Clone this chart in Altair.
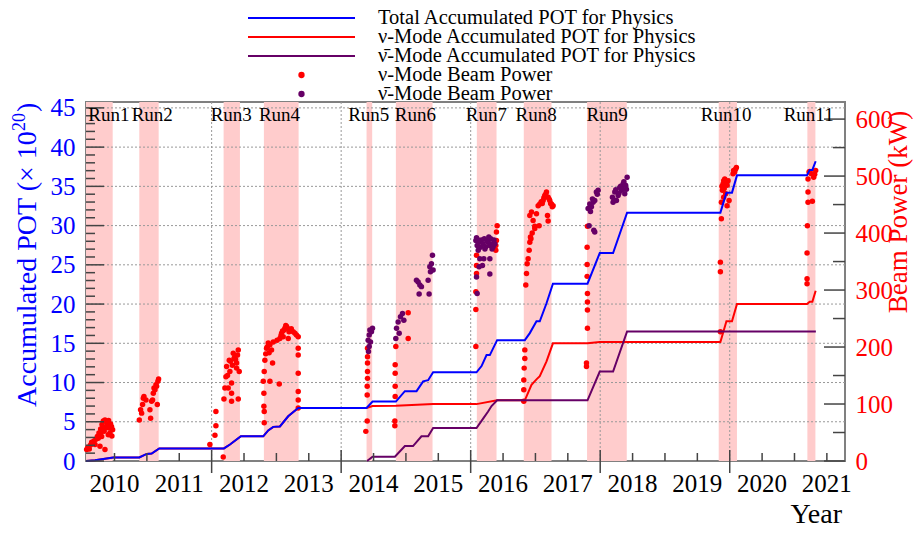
import altair as alt
import pandas as pd

# ---------------- data ----------------
X_MIN, X_MAX = 2010.06, 2021.78
POT_MAX, KW_MAX = 45.75, 630
W, H = 759, 359
FONT = "Liberation Serif"

run_names = ["Run1", "Run2", "Run3", "Run4", "Run5", "Run6", "Run7", "Run8", "Run9", "Run10", "Run11"]
run_start = [2010.06, 2010.883, 2012.185, 2012.807, 2014.392, 2014.845, 2016.095, 2016.820, 2017.797, 2019.830, 2021.199]
run_end = [2010.472, 2011.182, 2012.437, 2013.343, 2014.479, 2015.411, 2016.399, 2017.248, 2018.410, 2020.112, 2021.323]
run_label_at = [2010.096, 2010.765, 2011.985, 2012.730, 2014.108, 2014.829, 2015.925, 2016.692, 2017.788, 2019.552, 2020.833]

year_labels = ["2010", "2011", "2012", "2013", "2014", "2015", "2016", "2017", "2018", "2019", "2020", "2021"]
year_label_at = [2010.5, 2011.5, 2012.5, 2013.5, 2014.5, 2015.5, 2016.5, 2017.5, 2018.5, 2019.5, 2020.5, 2021.5]
year_minor_ticks = [2010.5, 2011.0, 2011.5, 2012.5, 2013.0, 2013.5, 2014.5, 2015.0, 2015.5, 2016.5,
                    2017.0, 2017.5, 2018.5, 2019.0, 2019.5, 2020.5, 2021.0, 2021.5]
year_major_ticks = [2012, 2014, 2016, 2018, 2020]

pot_major = [0, 5, 10, 15, 20, 25, 30, 35, 40, 45]
pot_minor = [v for v in range(0, 46) if v % 5 != 0]
pot_grid = [5, 10, 15, 20, 25, 30, 35, 40, 45]
kw_major = [0, 100, 200, 300, 400, 500, 600]
kw_minor = [50, 150, 250, 350, 450, 550]

total_year = [2010.06, 2010.20, 2010.48, 2010.883, 2010.997, 2011.074, 2011.191, 2012.190, 2012.283, 2012.452,
              2012.797, 2012.874, 2012.951, 2013.054, 2013.182, 2013.337, 2014.392, 2014.485, 2014.845, 2014.984,
              2015.164, 2015.266, 2015.343, 2015.42, 2016.09, 2016.168, 2016.245, 2016.296, 2016.408, 2016.836,
              2016.913, 2017.016, 2017.067, 2017.171, 2017.27, 2017.804, 2017.993, 2018.199, 2018.415, 2019.856,
              2019.949, 2020.035, 2020.112, 2021.193, 2021.235, 2021.276, 2021.327]
total_pot = [0.0, 0.1, 0.45, 0.45, 0.9, 0.95, 1.6, 1.6, 2.1, 3.15,
             3.15, 3.9, 4.35, 4.4, 5.7, 6.75, 6.75, 7.57, 7.57, 8.9,
             8.9, 10.15, 10.3, 11.3, 11.3, 12.1, 13.5, 13.5, 15.4, 15.4,
             16.3, 17.8, 17.8, 20.1, 22.6, 22.6, 26.5, 26.5, 31.65, 31.65,
             34.2, 34.2, 36.4, 36.4, 37.1, 37.1, 38.2]

nu_year = [2010.06, 2010.20, 2010.48, 2010.883, 2010.997, 2011.074, 2011.191, 2012.190, 2012.283, 2012.452,
           2012.797, 2012.874, 2012.951, 2013.054, 2013.182, 2013.337, 2014.392, 2014.485, 2014.845, 2015.42,
           2016.09, 2016.408, 2016.836, 2016.939, 2017.016, 2017.067, 2017.171, 2017.27, 2017.804, 2017.993,
           2019.856, 2019.949, 2020.035, 2020.112, 2021.193, 2021.235, 2021.276, 2021.327]
nu_pot = [0.0, 0.1, 0.45, 0.45, 0.9, 0.95, 1.6, 1.6, 2.1, 3.15,
          3.15, 3.9, 4.35, 4.4, 5.7, 6.75, 6.75, 7.0, 7.05, 7.25,
          7.25, 7.73, 7.73, 9.7, 10.4, 10.8, 12.7, 15.0, 15.0, 15.15,
          15.15, 17.8, 17.8, 20.0, 20.0, 20.3, 20.3, 21.7]

anu_year = [2014.40, 2014.485, 2014.83, 2014.984, 2015.11, 2015.24, 2015.343, 2015.42, 2016.09,
            2016.192, 2016.269, 2016.322, 2016.408, 2017.804, 2017.993, 2018.199, 2018.415, 2021.33]
anu_pot = [0.0, 0.55, 0.55, 1.9, 1.9, 3.15, 3.15, 4.2, 4.2,
           5.4, 6.3, 7.0, 7.73, 7.73, 11.4, 11.4, 16.5, 16.5]

nu_pw_year = [
    # Run1
    2010.070, 2010.111, 2010.147, 2010.183, 2010.214, 2010.235, 2010.260, 2010.286, 2010.307, 2010.327, 2010.353,
    2010.379, 2010.409, 2010.440, 2010.471, 2010.276, 2010.353, 2010.404, 2010.302, 2010.430, 2010.368, 2010.199,
    2010.090, 2010.130, 2010.250, 2010.320, 2010.340, 2010.390, 2010.420, 2010.455, 2010.290, 2010.460,
    # Run2
    2010.883, 2010.903, 2010.934, 2010.955, 2010.986, 2011.047, 2011.058, 2011.073, 2011.099, 2011.125, 2011.140,
    2011.161, 2011.181, 2011.150, 2011.088, 2010.919, 2010.945, 2011.110, 2011.170,
    # Run3
    2011.973, 2012.051, 2012.066, 2012.066, 2012.179, 2012.190, 2012.205, 2012.221, 2012.272, 2012.282, 2012.308,
    2012.308, 2012.334, 2012.359, 2012.385, 2012.411, 2012.426, 2012.411, 2012.308, 2012.256, 2012.231, 2012.385,
    2012.245, 2012.290, 2012.320, 2012.345, 2012.370, 2012.400,
    # Run4
    2012.797, 2012.807, 2012.807, 2012.812, 2012.812, 2012.812, 2012.822, 2012.848, 2012.874, 2012.900, 2012.925,
    2012.941, 2012.951, 2012.900, 2013.044, 2013.054, 2013.080, 2013.131, 2013.157, 2013.208, 2013.259, 2013.286,
    2013.337, 2013.337, 2013.337, 2013.337, 2013.337, 2013.337, 2013.337, 2013.183, 2013.105,
    2012.835, 2012.860, 2012.888, 2013.010, 2013.070, 2013.095, 2013.120, 2013.145, 2013.170, 2013.195,
    2013.230, 2013.310,
    # Run5
    2014.381, 2014.402, 2014.402, 2014.402, 2014.407, 2014.407, 2014.407, 2014.407, 2014.407,
    # Run6
    2014.829, 2014.829, 2014.834, 2014.834, 2014.834, 2014.834, 2014.844, 2015.035, 2015.035,
    # Run7
    2016.080, 2016.080, 2016.080, 2016.090, 2016.090, 2016.090, 2016.388, 2016.398, 2016.398, 2016.409, 2016.388,
    # Run8
    2016.820, 2016.820, 2016.820, 2016.826, 2016.836, 2016.836, 2016.851, 2016.862, 2016.872, 2016.887, 2016.903,
    2016.913, 2016.923, 2016.913, 2016.939, 2016.964, 2016.990, 2017.016, 2017.042, 2017.067, 2017.119, 2017.144,
    2017.170, 2017.196, 2017.221, 2017.273, 2017.247, 2017.186, 2017.196, 2017.057, 2016.990,
    2017.090, 2017.105, 2017.130, 2017.158, 2017.210, 2017.235, 2017.260, 2016.950, 2016.930,
    # Run9
    2017.788, 2017.788, 2017.803, 2017.803, 2017.803, 2017.803, 2017.798, 2017.798, 2017.798, 2017.803,
    # Run10
    2019.856, 2019.856, 2019.856, 2019.871, 2019.871, 2019.887, 2019.897, 2019.907, 2019.923, 2019.948, 2019.974,
    2019.938, 2019.907, 2019.959, 2019.990, 2020.051, 2020.077, 2020.103, 2019.897,
    2019.880, 2019.915, 2019.930, 2019.960, 2020.060, 2020.090,
    # Run11
    2021.194, 2021.194, 2021.194, 2021.199, 2021.209, 2021.209, 2021.209, 2021.225, 2021.261, 2021.276, 2021.297,
    2021.327, 2021.312, 2021.235,
]
nu_pw_kw = [
    20, 21, 33, 35, 38, 43, 49, 56, 64, 70, 72,
    68, 71, 65, 55, 26, 20, 46, 43, 49, 58, 29,
    24, 28, 40, 60, 52, 62, 58, 60, 50, 44,
    72, 90, 99, 113, 107, 90, 75, 105, 119, 125, 134,
    99, 144, 131, 107, 84, 110, 128, 140,
    29, 45, 62, 87, 7, 109, 128, 148, 177, 157, 137,
    105, 189, 183, 172, 195, 157, 109, 119, 128, 166, 163,
    150, 175, 168, 180, 178, 186,
    140, 119, 96, 67, 87, 157, 177, 198, 207, 204, 195,
    172, 209, 140, 135, 215, 224, 233, 236, 230, 227, 224,
    218, 198, 186, 154, 122, 107, 93, 215, 218,
    188, 200, 190, 212, 220, 228, 230, 238, 233, 227,
    232, 221,
    52, 70, 116, 131, 145, 157, 172, 183, 198,
    62, 70, 169, 154, 131, 113, 201, 260, 215,
    201, 266, 297, 329, 343, 361, 370, 387, 402, 413, 378,
    105, 125, 142, 163, 180, 195, 309, 329, 346, 355, 370,
    384, 393, 431, 437, 422, 408, 434, 448, 451, 457, 466,
    472, 463, 457, 448, 451, 431, 421, 413, 412,
    455, 452, 462, 468, 460, 452, 446, 400, 390,
    166, 172, 233, 265, 279, 294, 324, 345, 375, 412,
    227, 332, 349, 425, 454, 475, 486, 492, 495, 489, 492,
    469, 463, 448, 457, 504, 507, 515, 480,
    482, 478, 485, 484, 510, 512,
    311, 320, 365, 413, 454, 472, 495, 507, 504, 456, 498,
    510, 503, 508,
]

anu_pw_year = [
    # Run5
    2014.417, 2014.433, 2014.443, 2014.468, 2014.453, 2014.433, 2014.422, 2014.484,
    # Run6
    2014.844, 2014.855, 2014.880, 2014.916, 2014.947, 2014.968, 2014.896, 2015.163, 2015.189, 2015.215, 2015.240,
    2015.204, 2015.358, 2015.343, 2015.369, 2015.394, 2015.410, 2015.420, 2015.379,
    # Run7
    2016.080, 2016.100, 2016.131, 2016.167, 2016.193, 2016.234, 2016.270, 2016.296, 2016.321, 2016.347, 2016.373,
    2016.116, 2016.141, 2016.131, 2016.182, 2016.203, 2016.296, 2016.296, 2016.100, 2016.090,
    2016.090, 2016.150, 2016.210, 2016.250, 2016.310, 2016.360, 2016.120, 2016.220, 2016.330, 2016.280,
    # Run9
    2017.813, 2017.839, 2017.865, 2017.891, 2017.916, 2017.941, 2017.968, 2017.829, 2017.901, 2017.916,
    2018.189, 2018.225, 2018.251, 2018.302, 2018.328, 2018.354, 2018.379, 2018.405, 2018.416, 2018.199, 2018.277,
    2017.850, 2017.880, 2017.955, 2018.215, 2018.240, 2018.290, 2018.315, 2018.340, 2018.365, 2018.392,
]
anu_pw_kw = [
    212, 221, 230, 227, 209, 201, 192, 233,
    215, 233, 244, 253, 259, 247, 224, 317, 314, 309, 306,
    293, 293, 317, 341, 346, 361, 335, 332,
    387, 378, 384, 388, 381, 376, 384, 378, 381, 376, 381,
    370, 355, 341, 343, 355, 355, 328, 294, 323,
    392, 375, 390, 386, 390, 388, 388, 372, 372, 393,
    443, 451, 446, 454, 457, 472, 475, 413, 405, 402,
    463, 472, 457, 480, 475, 486, 469, 477, 498, 454, 466,
    438, 460, 468, 458, 476, 470, 482, 478, 490, 484,
]

legend_labels = [
    "Total Accumulated POT for Physics",
    "\u03bd-Mode Accumulated POT for Physics",
    "\u03bd\u0304-Mode Accumulated POT for Physics",
    "\u03bd-Mode Beam Power",
    "\u03bd\u0304-Mode Beam Power",
]

# ---------------- chart ----------------
BLUE, RED, PURPLE = "#0000ff", "#ff0000", "#660066"
GRID = "#999999"
TICK = "#444444"

xs = alt.Scale(domain=[X_MIN, X_MAX], nice=False, zero=False)
ys_pot = alt.Scale(domain=[0, POT_MAX], nice=False, zero=False)
ys_kw = alt.Scale(domain=[0, KW_MAX], nice=False, zero=False)


def xenc(field):
    return alt.X(field, type="quantitative", scale=xs, axis=None, title=None)


runs_df = pd.DataFrame({"run": run_names, "start": run_start, "end": run_end, "label_at": run_label_at})

shade = alt.Chart(runs_df).mark_rect(color="#ffcccc").encode(
    x=xenc("start"), x2="end:Q", y=alt.value(0), y2=alt.value(H))

vgrid = alt.Chart(pd.DataFrame({"v": year_major_ticks})).mark_rule(
    color=GRID, strokeDash=[2, 2], strokeWidth=1).encode(x=xenc("v"))

hgrid = alt.Chart(pd.DataFrame({"v": pot_grid})).mark_rule(
    color=GRID, strokeDash=[2, 2], strokeWidth=1).encode(
    y=alt.Y("v:Q", scale=ys_pot, axis=None))

total_df = pd.DataFrame({"year": total_year, "pot": total_pot})
nu_df = pd.DataFrame({"year": nu_year, "pot": nu_pot})
anu_df = pd.DataFrame({"year": anu_year, "pot": anu_pot})

line_nu = alt.Chart(nu_df).mark_line(color=RED, strokeWidth=2).encode(
    x=xenc("year"), y=alt.Y("pot:Q", scale=ys_pot, axis=None))
line_anu = alt.Chart(anu_df).mark_line(color=PURPLE, strokeWidth=2).encode(
    x=xenc("year"), y=alt.Y("pot:Q", scale=ys_pot, axis=None))
line_total = alt.Chart(total_df).mark_line(color=BLUE, strokeWidth=2).encode(
    x=xenc("year"),
    y=alt.Y("pot:Q", scale=ys_pot, title=None,
            axis=alt.Axis(orient="left", values=pot_major, ticks=False, domain=False, grid=False,
                          labelFont=FONT, labelFontSize=25, labelColor=BLUE, labelPadding=11)))

nu_pw_df = pd.DataFrame({"year": nu_pw_year, "kw": nu_pw_kw})
anu_pw_df = pd.DataFrame({"year": anu_pw_year, "kw": anu_pw_kw})

pts_nu = alt.Chart(nu_pw_df).mark_circle(color=RED, size=30, opacity=1).encode(
    x=xenc("year"),
    y=alt.Y("kw:Q", scale=ys_kw, title=None,
            axis=alt.Axis(orient="right", values=kw_major, ticks=False, domain=False, grid=False,
                          labelFont=FONT, labelFontSize=25, labelColor=RED, labelPadding=10)))
pts_anu = alt.Chart(anu_pw_df).mark_circle(color=PURPLE, size=30, opacity=1).encode(
    x=xenc("year"), y=alt.Y("kw:Q", scale=ys_kw, axis=None))

# inward tick marks
lt_major = alt.Chart(pd.DataFrame({"v": pot_major})).mark_rule(color=TICK, strokeWidth=1.5).encode(
    y=alt.Y("v:Q", scale=ys_pot, axis=None), x=alt.value(0), x2=alt.value(18))
lt_minor = alt.Chart(pd.DataFrame({"v": pot_minor})).mark_rule(color=TICK, strokeWidth=1.5).encode(
    y=alt.Y("v:Q", scale=ys_pot, axis=None), x=alt.value(0), x2=alt.value(9))
rt_major = alt.Chart(pd.DataFrame({"v": kw_major})).mark_rule(color=TICK, strokeWidth=1.5).encode(
    y=alt.Y("v:Q", scale=ys_kw, axis=None), x=alt.value(W - 21), x2=alt.value(W))
rt_minor = alt.Chart(pd.DataFrame({"v": kw_minor})).mark_rule(color=TICK, strokeWidth=1.5).encode(
    y=alt.Y("v:Q", scale=ys_kw, axis=None), x=alt.value(W - 12), x2=alt.value(W))
bt_minor = alt.Chart(pd.DataFrame({"v": year_minor_ticks})).mark_rule(color=TICK, strokeWidth=1.5).encode(
    x=xenc("v"), y=alt.value(H - 8), y2=alt.value(H))
bt_major = alt.Chart(pd.DataFrame({"v": year_major_ticks})).mark_rule(color=TICK, strokeWidth=1.5).encode(
    x=xenc("v"), y=alt.value(H - 11), y2=alt.value(H + 12))

# x-axis year labels (centred on mid-year)
year_text = alt.Chart(pd.DataFrame({"at": year_label_at, "lab": year_labels})).mark_text(
    font=FONT, fontSize=25, color="black", align="center", baseline="middle").encode(
    x=xenc("at"), y=alt.value(H + 23), text="lab:N")

run_text = alt.Chart(runs_df).mark_text(font=FONT, fontSize=19, align="left", baseline="middle",
                                        color="black").encode(
    x=xenc("label_at"), y=alt.value(13), text="run:N")

# titles (left title built from pieces so that the exponent is a real superscript)
T_FS, SUP_FS = 28, 18
t_base = 305  # bottom end of the rotated left title, plot coords
t_main = "Accumulated POT (\u00d7 10"
t_main_w = 276
left_title_main = alt.Chart(pd.DataFrame({"t": [t_main]})).mark_text(
    font=FONT, fontSize=T_FS, color=BLUE, angle=270, align="left", baseline="middle").encode(
    text="t:N", x=alt.value(-58), y=alt.value(t_base))
left_title_sup = alt.Chart(pd.DataFrame({"t": ["20"]})).mark_text(
    font=FONT, fontSize=SUP_FS, color=BLUE, angle=270, align="left", baseline="middle").encode(
    text="t:N", x=alt.value(-66), y=alt.value(t_base - t_main_w))
left_title_end = alt.Chart(pd.DataFrame({"t": [")"]})).mark_text(
    font=FONT, fontSize=T_FS, color=BLUE, angle=270, align="left", baseline="middle").encode(
    text="t:N", x=alt.value(-58), y=alt.value(t_base - t_main_w - 19))

right_title = alt.Chart(pd.DataFrame({"t": ["Beam Power (kW)"]})).mark_text(
    font=FONT, fontSize=27, color=RED, angle=270, align="center", baseline="middle").encode(
    text="t:N", x=alt.value(813), y=alt.value(110))
year_title = alt.Chart(pd.DataFrame({"t": ["Year"]})).mark_text(
    font=FONT, fontSize=T_FS, color="black", align="right", baseline="alphabetic").encode(
    text="t:N", x=alt.value(756), y=alt.value(421))

# legend
legend_layers = []
leg_colors = [BLUE, RED, PURPLE, RED, PURPLE]
for i, (lab, col) in enumerate(zip(legend_labels, leg_colors)):
    yy = -84 + i * 19
    legend_layers.append(
        alt.Chart(pd.DataFrame({"t": [lab]})).mark_text(
            font=FONT, fontSize=20.5, color="black", align="left", baseline="middle").encode(
            text="t:N", x=alt.value(292), y=alt.value(yy)))
    if i < 3:
        legend_layers.append(
            alt.Chart(pd.DataFrame({"t": [lab]})).mark_rule(color=col, strokeWidth=2).encode(
                x=alt.value(162), x2=alt.value(269), y=alt.value(yy)))
    else:
        legend_layers.append(
            alt.Chart(pd.DataFrame({"t": [lab]})).mark_circle(color=col, size=40, opacity=1).encode(
                x=alt.value(215.5), y=alt.value(yy)))

chart = alt.layer(
    shade, vgrid, hgrid,
    pts_nu, pts_anu,
    line_nu, line_anu, line_total,
    lt_major, lt_minor, rt_major, rt_minor, bt_minor, bt_major,
    year_text, run_text, left_title_main, left_title_sup, left_title_end, right_title, year_title,
    *legend_layers,
).resolve_scale(y="independent").properties(
    width=W, height=H,
    autosize=alt.AutoSizeParams(type="none"),
    padding={"left": 78, "top": 94, "right": 69, "bottom": 67},
).configure_view(stroke="#808080", strokeWidth=2)

chart.save("out.html", embed_options={"renderer": "svg", "actions": False})
